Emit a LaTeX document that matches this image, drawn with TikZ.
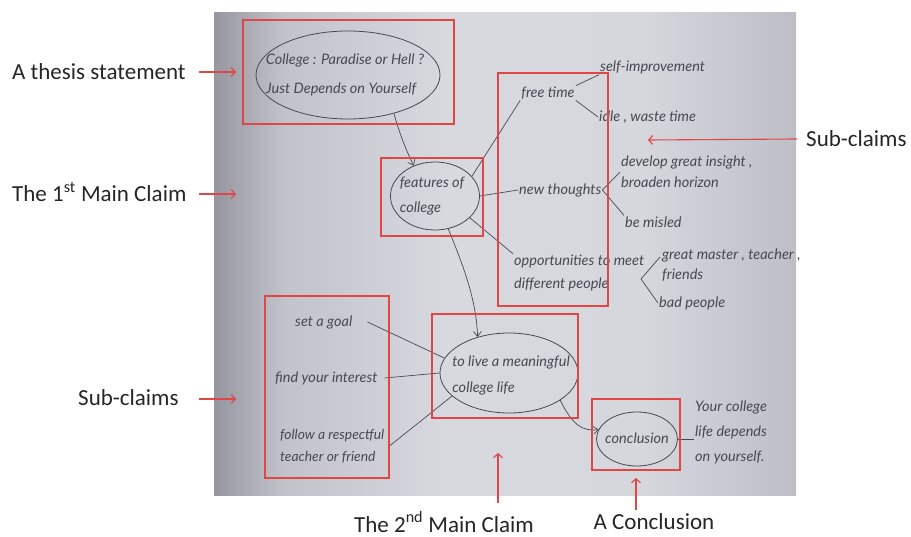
\documentclass[tikz,border=0pt]{standalone}
\usepackage{fontspec}
\setmainfont{Carlito}
\newfontfamily\hand{Lato}
\usetikzlibrary{arrows.meta,shapes.geometric}
\definecolor{redline}{RGB}{224,70,70}
\definecolor{penc}{RGB}{72,72,82}
\definecolor{bga}{RGB}{150,150,160}
\definecolor{bgb}{RGB}{194,194,203}
\definecolor{bgc}{RGB}{216,216,223}
\definecolor{bgd}{RGB}{214,214,221}
\definecolor{bge}{RGB}{190,190,199}
\pgfdeclarehorizontalshading{paper}{100bp}{color(0bp)=(bga); color(25bp)=(bga); color(31bp)=(bgb); color(45bp)=(bgc); color(62bp)=(bgd); color(75bp)=(bge); color(100bp)=(bge)}
\tikzset{
  lab/.style={font=\fontsize{23}{27}\selectfont, text=black!85, inner sep=0pt},
  redbox/.style={draw=redline, line width=1.3pt, minimum width=#1},
  redarr/.style={draw=redline, line width=1.1pt, -{Straight Barb[length=4pt,width=9pt]}},
  hw/.style={font=\hand\itshape\fontsize{14.5}{24}\selectfont, text=penc, inner sep=1pt, align=left},
  oval/.style={draw=penc, line width=0.8pt, ellipse, inner sep=0pt},
  pen/.style={draw=penc, line width=0.7pt},
  penarr/.style={pen, -{Straight Barb[length=5pt,width=8pt]}}
}
\begin{document}
\begin{tikzpicture}[x=1pt,y=-1pt]
\useasboundingbox (0,0) rectangle (911,537);
\fill[white] (0,0) rectangle (911,537);
\shade[shading=paper] (214,13) rectangle (796,495);

% ovals
\node[oval, minimum width=184pt, minimum height=88pt] (thesis) at (348,75) {};
\node[hw, font=\hand\itshape\fontsize{14.5}{29}\selectfont] (thesisT) at (345,75) {College : Paradise or Hell ?\\Just Depends on Yourself};
\node[oval, minimum width=89pt, minimum height=68pt] (feat) at (435,196) {};
\node[hw, font=\hand\itshape\fontsize{14.5}{25}\selectfont] (featT) at (432,196) {features of\\college};
\node[oval, minimum width=138pt, minimum height=80pt] (mean) at (509,373) {};
\node[hw, font=\hand\itshape\fontsize{14.5}{26}\selectfont] (meanT) at (511,375) {to live a meaningful\\college life};
\node[oval, minimum width=81pt, minimum height=54pt] (conc) at (637,439) {};
\node[hw] (concT) at (637,438) {conclusion};

% hand texts
\node[hw] (ft) at (548,93) {free time};
\node[hw, anchor=west] (si) at (599,67) {self-improvement};
\node[hw, anchor=west] (idle) at (598,117) {idle , waste time};
\node[hw, anchor=west] (nt) at (518,190) {new thoughts};
\node[hw, anchor=west, font=\hand\itshape\fontsize{14.5}{21}\selectfont] (dev) at (620,172) {develop great insight ,\\broaden horizon};
\node[hw, anchor=west] (bm) at (624,222) {be misled};
\node[hw, anchor=west, font=\hand\itshape\fontsize{14.5}{23}\selectfont] (opp) at (513,273) {opportunities to meet\\different people};
\node[hw, anchor=west, font=\hand\itshape\fontsize{14.5}{20}\selectfont] (gm) at (661,265) {great master , teacher ,\\friends};
\node[hw, anchor=west] (bp) at (658,303) {bad people};
\node[hw, anchor=west] (sg) at (294,322) {set a goal};
\node[hw, anchor=west] (fi) at (274,378) {find your interest};
\node[hw, anchor=west, font=\hand\itshape\fontsize{13.8}{22}\selectfont] (fo) at (279,446) {follow a respectful\\teacher or friend};
\node[hw, anchor=west, font=\hand\itshape\fontsize{14.5}{25}\selectfont] (yc) at (694,432) {Your college\\life depends\\on yourself.};

% pen connectors
\draw[penarr] (thesis.-40) .. controls (400,135) and (406,150) .. (feat.125);
\draw[pen] (feat.28) -- (ft.south west);
\draw[pen] (ft.north east) -- (si.south west);
\draw[pen] (ft.south east) -- (idle.west);
\draw[pen] (feat.east) -- (nt.west);
\draw[pen] (nt.east) -- (dev.west);
\draw[pen] (nt.east) -- (bm.north west);
\draw[pen] (feat.-32) -- (opp.north west);
\coordinate (brt) at (660,257);
\coordinate (brm) at (641,279);
\draw[pen] (brt) -- (brm) -- (bp.west);
\draw[penarr] (feat.-68) .. controls (465,270) and (476,300) .. (mean.131);
\draw[pen] ([xshift=14pt]sg.east) -- (mean.167);
\draw[pen] ([xshift=6pt]fi.east) -- (mean.180);
\draw[pen] ([xshift=4pt]fo.east) -- (mean.202);
\draw[penarr] (mean.-28) .. controls (572,424) and (582,432) .. (conc.166);
\draw[pen] (conc.east) -- (yc.west |- conc.east);

% red boxes
\node[redbox=211pt, minimum height=104pt] (b1) at (348.5,72) {};
\node[redbox=110pt, minimum height=233pt] (b2) at (553,189.5) {};
\node[redbox=102pt, minimum height=78pt] (b3) at (432,197) {};
\node[redbox=124pt, minimum height=182pt] (b4) at (327,387) {};
\node[redbox=146pt, minimum height=104pt] (b5) at (505,366) {};
\node[redbox=88pt, minimum height=71pt] (b6) at (636,434.5) {};

% labels
\node[lab, anchor=west] (l1) at (12,72) {A thesis statement};
\node[lab, anchor=west] (l2) at (12,192) {The 1\textsuperscript{st} Main Claim};
\node[lab, anchor=west] (l3) at (78,398) {Sub-claims};
\node[lab, anchor=west] (l4) at (806,139) {Sub-claims};
\node[lab] (l5) at (444,522) {The 2\textsuperscript{nd} Main Claim};
\node[lab] (l6) at (654,522) {A Conclusion};

\coordinate (a1) at (199,72);   \coordinate (t1) at (236,72);
\coordinate (a2) at (199,194);  \coordinate (t2) at (236,194);
\coordinate (a3) at (199,399);  \coordinate (t3) at (236,399);
\coordinate (a4) at (797,139);  \coordinate (t4) at (648,140);
\coordinate (a5) at (498,503);  \coordinate (t5) at (498,453);
\coordinate (a6) at (636,510);  \coordinate (t6) at (636,478);
\draw[redarr] (a1) -- (t1);
\draw[redarr] (a2) -- (t2);
\draw[redarr] (a3) -- (t3);
\draw[redarr] (a4) -- (t4);
\draw[redarr] (a5) -- (t5);
\draw[redarr] (a6) -- (t6);
\end{tikzpicture}
\end{document}
